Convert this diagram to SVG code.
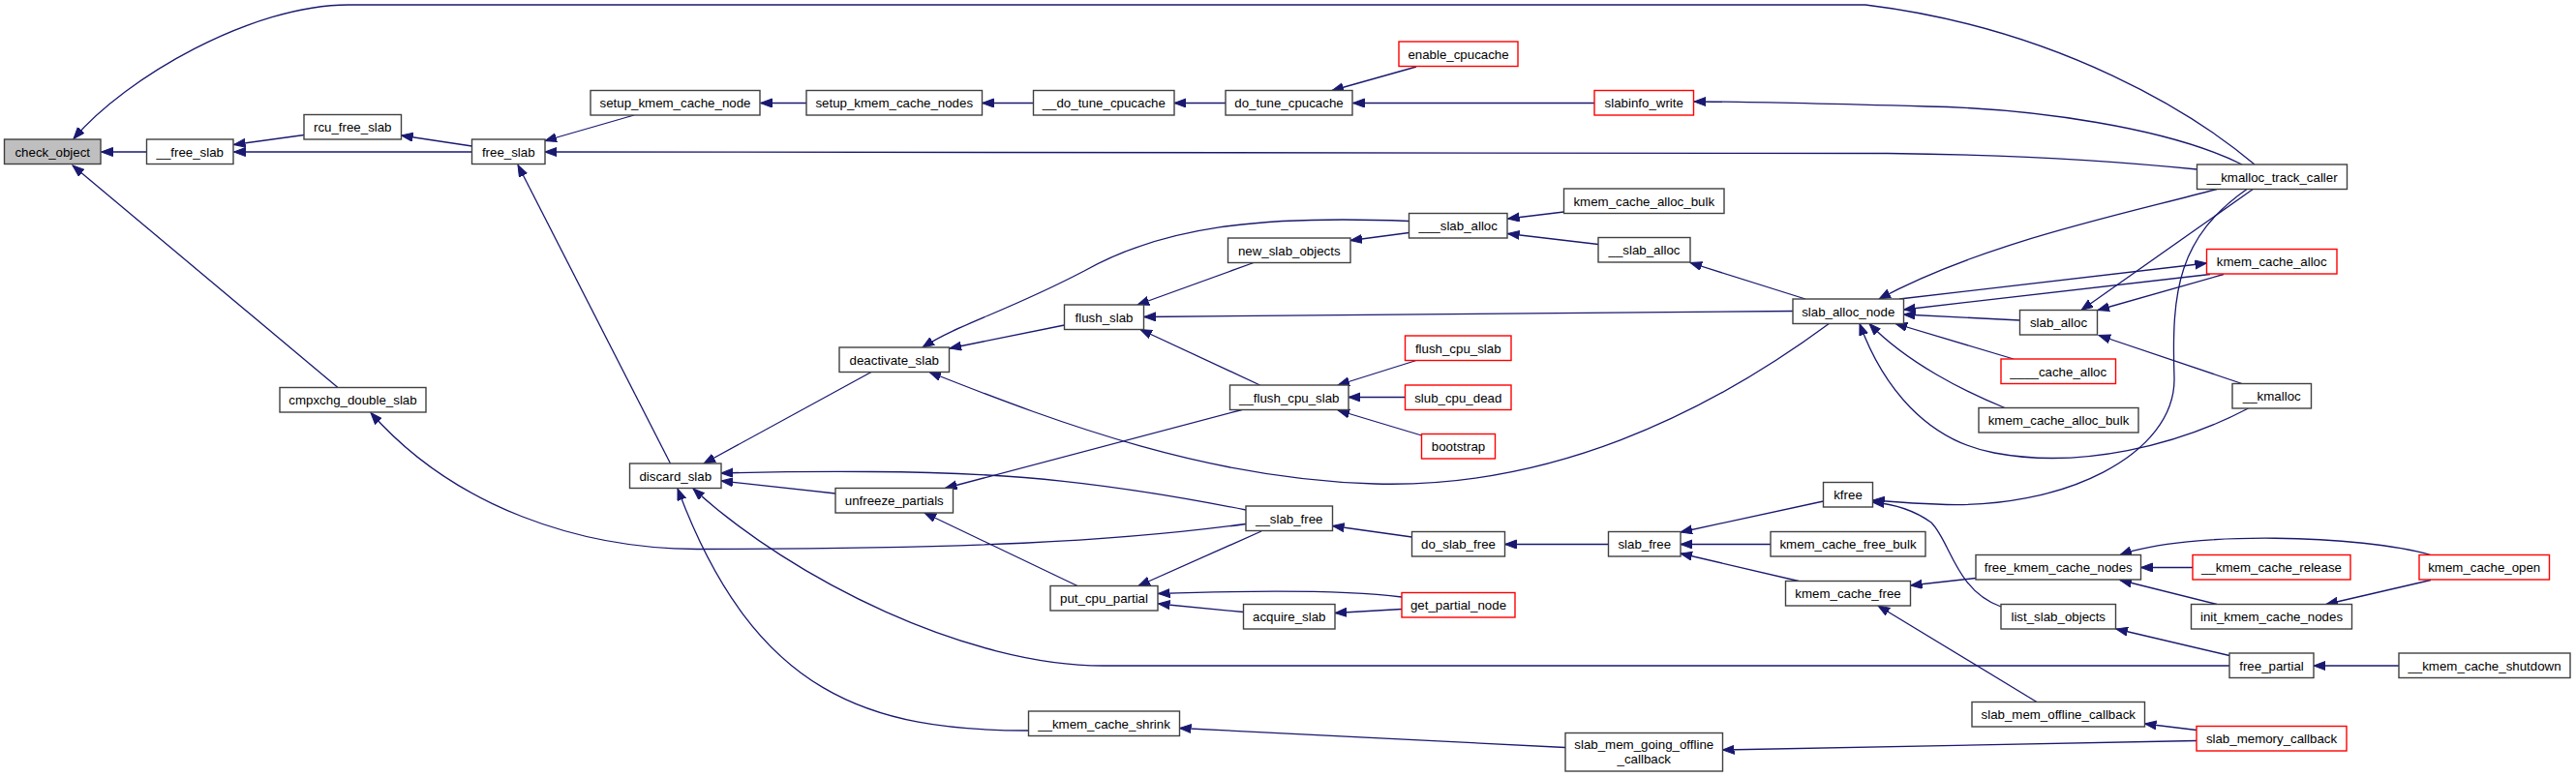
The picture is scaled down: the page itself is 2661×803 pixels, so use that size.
<svg xmlns="http://www.w3.org/2000/svg" width="2661" height="803" viewBox="0 0 2661 803">
<style>
.n rect{fill:#fff;stroke:#404040;stroke-width:1.4}
.n.r rect{stroke:#ff0000}
.n.root rect{fill:#bfbfbf}
.n text{font-family:"Liberation Sans",Arial,sans-serif;font-size:13.3px;fill:#000;text-anchor:middle}
.e path{fill:none;stroke:#191970;stroke-width:1.3;marker-end:url(#ah)}
</style>
<defs>
<marker id="ah" markerUnits="userSpaceOnUse" markerWidth="13" markerHeight="10" refX="12" refY="4.75" orient="auto">
<path d="M0,0.25 L12,4.75 L0,9.25 z" fill="#191970" stroke="#191970" stroke-width="1"/>
</marker>
</defs>
<rect width="2661" height="803" fill="#fff"/>
<g id="edges" class="e">
<path d="M151.5,157 L104.5,157"/>
<path d="M349,400.5 L75,171"/>
<path d="M2329,170 C2270,120 2130,30 1927,5 L360,5 C260,5 130,80 76,143.5"/>
<path d="M314,139.5 L241.5,149.5"/>
<path d="M487.5,157 L241.5,157"/>
<path d="M487.5,151 L414.5,140"/>
<path d="M655,119 L563,145.5"/>
<path d="M2269.5,175 C2200,168 2100,160 1950,158.5 L563,157"/>
<path d="M692.5,479 L535,170.5"/>
<path d="M833,106.5 L785.5,106.5"/>
<path d="M1067.5,106.5 L1014.5,106.5"/>
<path d="M1266,106.5 L1213,106.5"/>
<path d="M1463,69 L1376,93.5"/>
<path d="M1647,106.5 L1397.5,106.5"/>
<path d="M2316,170 C2240,132 2100,112 1990,110 C1880,107 1800,105 1750,105"/>
<path d="M900,384.5 L727,479"/>
<path d="M863,510 L745,497"/>
<path d="M1287,527 C1150,500 1050,488 900,487.5 C820,487 780,488 745,489"/>
<path d="M2303,688 L1140,688 C1000,688 820,600 716,505"/>
<path d="M1062.5,755 C900,755 780,720 700,505"/>
<path d="M1455.5,228.5 C1300,222 1200,235 1120,280 C1040,322 990,335 953,359"/>
<path d="M1099.5,336 L981,360"/>
<path d="M1890,334 C1760,430 1600,505 1420,500 C1250,495 1100,440 960,384.5"/>
<path d="M1295,271.5 L1175,315"/>
<path d="M1852,321.5 L1182,327.5"/>
<path d="M1301.5,398 L1178,340.5"/>
<path d="M1455.5,240.5 L1395,248.5"/>
<path d="M1615.5,219 L1557.5,226"/>
<path d="M1651,252.5 L1557.5,241.5"/>
<path d="M1865,309 L1746,271.5"/>
<path d="M1463,372.5 L1382,398"/>
<path d="M1451.5,410.5 L1393,410.5"/>
<path d="M1468.5,450 L1382,424"/>
<path d="M1283,423.5 L976.5,504.5"/>
<path d="M1113,605.5 L955,530"/>
<path d="M1303,549 L1176,605.5"/>
<path d="M1448,617 C1400,611 1330,609 1196.5,613.5"/>
<path d="M1284.5,632.5 L1196.5,624"/>
<path d="M1448,629.5 L1379,633.5"/>
<path d="M1458.5,555 L1376.5,543.5"/>
<path d="M1661.5,562.5 L1554.5,562.5"/>
<path d="M1883.5,518 L1736,550"/>
<path d="M1829,562.5 L1736,562.5"/>
<path d="M1858,600.5 L1736,572"/>
<path d="M2321.7,195 C2250,245 2243,300 2246,390 C2248,470 2130,528 2000,521 C1970,520 1950,518 1934.5,517"/>
<path d="M2067,627 C2020,610 2015,560 1995,540 Q1970,522 1934.5,519"/>
<path d="M2041,597.5 L1973.5,605"/>
<path d="M2104,725.5 L1940,626"/>
<path d="M2265,586.5 L2211.5,586.5"/>
<path d="M2511,573.5 C2440,553 2260,548 2190,573.5"/>
<path d="M2290,624.5 L2190,599.5"/>
<path d="M2511,599.5 L2403,624.5"/>
<path d="M2303,677.5 L2186,650"/>
<path d="M2478,688 L2390,688"/>
<path d="M2269,754.5 L2215.5,748"/>
<path d="M2269,765.5 L1779.5,775"/>
<path d="M1617,772.5 L1218.5,752.5"/>
<path d="M1287,541.5 C1150,560 1000,567 720,567.5 C600,567 470,525 383,426.5"/>
<path d="M2290,195.5 C2200,220 2050,250 1941,309"/>
<path d="M1962,309 L2279.5,272"/>
<path d="M2283,283.5 L1966.5,320"/>
<path d="M2297,283.5 L2167,320.5"/>
<path d="M2328,195 L2150,320.5"/>
<path d="M2086.5,331 L1966.5,325"/>
<path d="M2080,371 L1958,334.5"/>
<path d="M2071,421.5 C2030,405 1970,375 1931,334.5"/>
<path d="M2322.5,422 C2250,460 2150,485 2060,468 C1990,455 1945,400 1921,334.5"/>
<path d="M2316,396.5 L2168,346.5"/>
</g>
<g id="n_check_object" class="n root"><rect x="4.5" y="144" width="99.5" height="25.5"/><text x="54.25" y="161.5">check_object</text></g>
<g id="n___free_slab" class="n"><rect x="151.5" y="144" width="89.5" height="25.5"/><text x="196.25" y="161.5">__free_slab</text></g>
<g id="n_rcu_free_slab" class="n"><rect x="314" y="118.5" width="100.5" height="25.5"/><text x="364.25" y="136">rcu_free_slab</text></g>
<g id="n_free_slab" class="n"><rect x="487.5" y="144" width="75.5" height="25.5"/><text x="525.25" y="161.5">free_slab</text></g>
<g id="n_setup_kmem_cache_node" class="n"><rect x="610" y="93.5" width="175" height="25.5"/><text x="697.5" y="111">setup_kmem_cache_node</text></g>
<g id="n_setup_kmem_cache_nodes" class="n"><rect x="833" y="93.5" width="181.5" height="25.5"/><text x="923.75" y="111">setup_kmem_cache_nodes</text></g>
<g id="n___do_tune_cpucache" class="n"><rect x="1067.5" y="93.5" width="145.5" height="25.5"/><text x="1140.25" y="111">__do_tune_cpucache</text></g>
<g id="n_do_tune_cpucache" class="n"><rect x="1266" y="93.5" width="131" height="25.5"/><text x="1331.5" y="111">do_tune_cpucache</text></g>
<g id="n_enable_cpucache" class="n r"><rect x="1445" y="43" width="123" height="25.5"/><text x="1506.5" y="60.5">enable_cpucache</text></g>
<g id="n_slabinfo_write" class="n r"><rect x="1647" y="93.5" width="102.5" height="25.5"/><text x="1698.25" y="111">slabinfo_write</text></g>
<g id="n___kmalloc_track_caller" class="n"><rect x="2269.5" y="170" width="155" height="25.5"/><text x="2347" y="187.5">__kmalloc_track_caller</text></g>
<g id="n_cmpxchg_double_slab" class="n"><rect x="289" y="400.5" width="151" height="25.5"/><text x="364.5" y="418">cmpxchg_double_slab</text></g>
<g id="n_discard_slab" class="n"><rect x="650.5" y="479" width="94.5" height="25.5"/><text x="697.75" y="496.5">discard_slab</text></g>
<g id="n_deactivate_slab" class="n"><rect x="867" y="359" width="113.5" height="25.5"/><text x="923.75" y="376.5">deactivate_slab</text></g>
<g id="n_unfreeze_partials" class="n"><rect x="863" y="504.5" width="121.5" height="25.5"/><text x="923.75" y="522">unfreeze_partials</text></g>
<g id="n_flush_slab" class="n"><rect x="1099.5" y="315" width="82" height="25.5"/><text x="1140.5" y="332.5">flush_slab</text></g>
<g id="n_new_slab_objects" class="n"><rect x="1268.5" y="246" width="126.5" height="25.5"/><text x="1331.75" y="263.5">new_slab_objects</text></g>
<g id="n____slab_alloc" class="n"><rect x="1455.5" y="220.5" width="101.5" height="25.5"/><text x="1506.25" y="238">___slab_alloc</text></g>
<g id="n_kmem_cache_alloc_bulk_a" class="n"><rect x="1615.5" y="195" width="165.5" height="25.5"/><text x="1698.25" y="212.5">kmem_cache_alloc_bulk</text></g>
<g id="n___slab_alloc" class="n"><rect x="1651" y="245.5" width="95" height="25.5"/><text x="1698.5" y="263">__slab_alloc</text></g>
<g id="n_slab_alloc_node" class="n"><rect x="1852" y="309" width="114.5" height="25.5"/><text x="1909.25" y="326.5">slab_alloc_node</text></g>
<g id="n___flush_cpu_slab" class="n"><rect x="1270.5" y="398" width="122.5" height="25.5"/><text x="1331.75" y="415.5">__flush_cpu_slab</text></g>
<g id="n_flush_cpu_slab" class="n r"><rect x="1451.5" y="347" width="109.5" height="25.5"/><text x="1506.25" y="364.5">flush_cpu_slab</text></g>
<g id="n_slub_cpu_dead" class="n r"><rect x="1451.5" y="398" width="109.5" height="25.5"/><text x="1506.25" y="415.5">slub_cpu_dead</text></g>
<g id="n_bootstrap" class="n r"><rect x="1468.5" y="448.5" width="76" height="25.5"/><text x="1506.5" y="466">bootstrap</text></g>
<g id="n_put_cpu_partial" class="n"><rect x="1085" y="605.5" width="111" height="25.5"/><text x="1140.5" y="623">put_cpu_partial</text></g>
<g id="n___slab_free" class="n"><rect x="1287" y="523" width="89.5" height="25.5"/><text x="1331.75" y="540.5">__slab_free</text></g>
<g id="n_acquire_slab" class="n"><rect x="1284.5" y="624.5" width="94.5" height="25.5"/><text x="1331.75" y="642">acquire_slab</text></g>
<g id="n_get_partial_node" class="n r"><rect x="1448" y="612.5" width="117" height="25.5"/><text x="1506.5" y="630">get_partial_node</text></g>
<g id="n_do_slab_free" class="n"><rect x="1458.5" y="549.5" width="96" height="25.5"/><text x="1506.5" y="567">do_slab_free</text></g>
<g id="n_slab_free" class="n"><rect x="1661.5" y="549.5" width="74.5" height="25.5"/><text x="1698.75" y="567">slab_free</text></g>
<g id="n_kfree" class="n"><rect x="1883.5" y="498.5" width="51" height="25.5"/><text x="1909" y="516">kfree</text></g>
<g id="n_kmem_cache_free_bulk" class="n"><rect x="1829" y="549.5" width="160" height="25.5"/><text x="1909" y="567">kmem_cache_free_bulk</text></g>
<g id="n_kmem_cache_free" class="n"><rect x="1844.5" y="600.5" width="129" height="25.5"/><text x="1909" y="618">kmem_cache_free</text></g>
<g id="n___kmem_cache_shrink" class="n"><rect x="1062.5" y="735" width="156" height="25.5"/><text x="1140.5" y="752.5">__kmem_cache_shrink</text></g>
<g id="n_slab_mem_going_offline_callback" class="n"><rect x="1617" y="757.5" width="162.5" height="39.5"/><text x="1698.25" y="774">slab_mem_going_offline</text><text x="1698.25" y="789">_callback</text></g>
<g id="n_kmem_cache_alloc" class="n r"><rect x="2279.5" y="257.5" width="134.5" height="25.5"/><text x="2346.75" y="275">kmem_cache_alloc</text></g>
<g id="n_slab_alloc" class="n"><rect x="2086.5" y="320.5" width="80" height="25.5"/><text x="2126.5" y="338">slab_alloc</text></g>
<g id="n_____cache_alloc" class="n r"><rect x="2067" y="371" width="118.5" height="25.5"/><text x="2126.25" y="388.5">____cache_alloc</text></g>
<g id="n___kmalloc" class="n"><rect x="2306" y="396.5" width="81.5" height="25.5"/><text x="2346.75" y="414">__kmalloc</text></g>
<g id="n_kmem_cache_alloc_bulk_b" class="n"><rect x="2044" y="421.5" width="165" height="25.5"/><text x="2126.5" y="439">kmem_cache_alloc_bulk</text></g>
<g id="n_free_kmem_cache_nodes" class="n"><rect x="2041" y="573.5" width="170.5" height="25.5"/><text x="2126.25" y="591">free_kmem_cache_nodes</text></g>
<g id="n___kmem_cache_release" class="n r"><rect x="2265" y="573.5" width="163" height="25.5"/><text x="2346.5" y="591">__kmem_cache_release</text></g>
<g id="n_kmem_cache_open" class="n r"><rect x="2499" y="573.5" width="134.5" height="25.5"/><text x="2566.25" y="591">kmem_cache_open</text></g>
<g id="n_list_slab_objects" class="n"><rect x="2067" y="624.5" width="118.5" height="25.5"/><text x="2126.25" y="642">list_slab_objects</text></g>
<g id="n_init_kmem_cache_nodes" class="n"><rect x="2263.5" y="624.5" width="166" height="25.5"/><text x="2346.5" y="642">init_kmem_cache_nodes</text></g>
<g id="n_free_partial" class="n"><rect x="2303" y="675" width="87" height="25.5"/><text x="2346.5" y="692.5">free_partial</text></g>
<g id="n___kmem_cache_shutdown" class="n"><rect x="2478" y="675" width="177" height="25.5"/><text x="2566.5" y="692.5">__kmem_cache_shutdown</text></g>
<g id="n_slab_mem_offline_callback" class="n"><rect x="2037" y="725.5" width="178.5" height="25.5"/><text x="2126.25" y="743">slab_mem_offline_callback</text></g>
<g id="n_slab_memory_callback" class="n r"><rect x="2269" y="750.5" width="155" height="25.5"/><text x="2346.5" y="768">slab_memory_callback</text></g>
</svg>
